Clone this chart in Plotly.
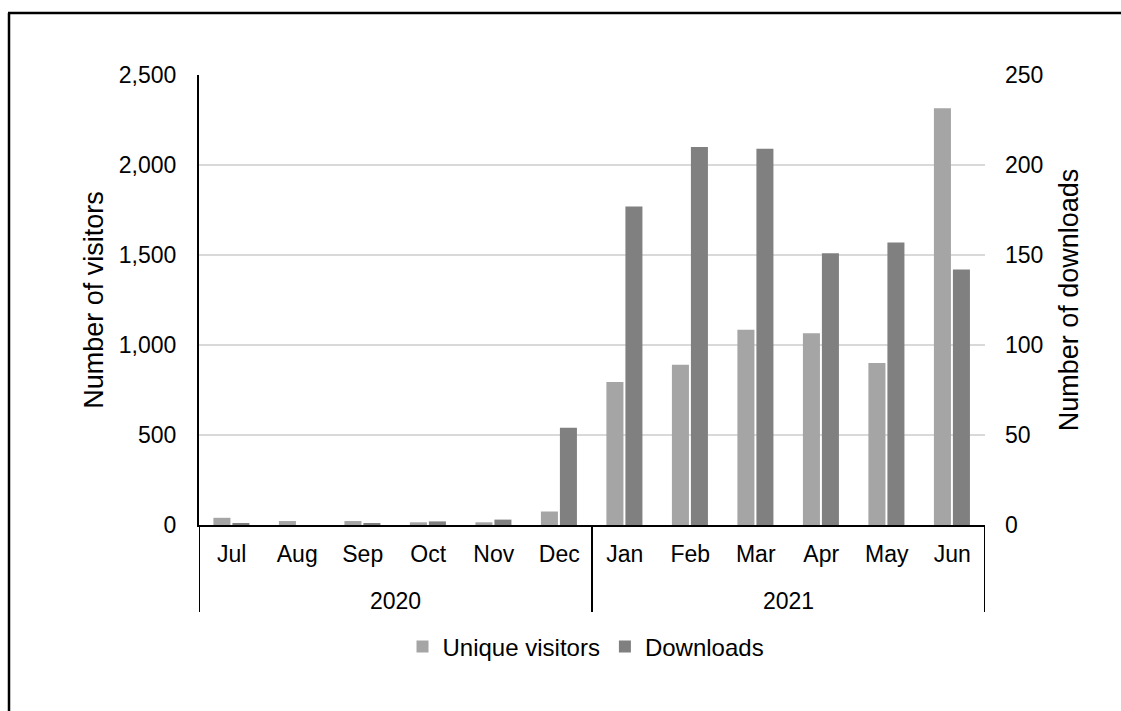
import plotly.graph_objects as go

months = ["Jul", "Aug", "Sep", "Oct", "Nov", "Dec", "Jan", "Feb", "Mar", "Apr", "May", "Jun"]
years = ["2020", "2021"]
year_spans = [(0, 5), (6, 11)]
visitors = [40, 22, 22, 15, 15, 75, 795, 890, 1085, 1065, 900, 2315]
downloads = [1, 0, 1, 2, 3, 54, 177, 210, 209, 151, 157, 142]

FONT = "Liberation Sans, Arial, sans-serif"
FS = 23
FT = 27
FL = 24
L, R, T, B = 199, 985, 75, 525
W, H = 1121, 711
pw, ph = R - L, B - T

fig = go.Figure()
fig.add_trace(go.Bar(x=list(range(len(months))), y=visitors, name="Unique visitors",
                     marker=dict(color="#A5A5A5", line=dict(width=0)),
                     offset=-0.28, width=0.26, yaxis="y"))
fig.add_trace(go.Bar(x=list(range(len(months))), y=downloads, name="Downloads",
                     marker=dict(color="#808080", line=dict(width=0)),
                     offset=0.01, width=0.26, yaxis="y2"))

shapes = []
div_bottom = (B - 612) / ph
bounds = [-0.5, 5.5, 11.5]
for b in bounds:
    shapes.append(dict(type="line", xref="x", yref="paper", x0=b, x1=b, y0=0, y1=div_bottom,
                       line=dict(color="black", width=2)))
# outer border (left and top edges visible)
shapes.append(dict(type="line", xref="paper", yref="paper",
                   x0=(9 - L) / pw, x1=(9 - L) / pw, y0=(B - H) / ph, y1=(B - 13) / ph,
                   line=dict(color="black", width=2.5)))
shapes.append(dict(type="line", xref="paper", yref="paper",
                   x0=(8 - L) / pw, x1=(W - L) / pw, y0=(B - 13) / ph, y1=(B - 13) / ph,
                   line=dict(color="black", width=2.5)))

annotations = []
for yr, (a, b) in zip(years, year_spans):
    annotations.append(dict(text=yr, x=(a + b) / 2, xref="x", y=(B - 601) / ph, yref="paper",
                            showarrow=False, font=dict(family=FONT, size=FS, color="black"),
                            xanchor="center", yanchor="middle"))

fig.update_layout(
    width=W, height=H,
    margin=dict(l=L, r=W - R, t=T, b=H - B),
    paper_bgcolor="white", plot_bgcolor="white",
    font=dict(family=FONT, size=FS, color="black"),
    showlegend=True,
    legend=dict(orientation="h", x=(586 - L) / pw, xref="paper", xanchor="center",
                y=(B - 647) / ph, yanchor="middle", font=dict(family=FONT, size=FL, color="black"),
                itemwidth=30, traceorder="normal"),
    xaxis=dict(type="linear", range=[-0.5, 11.5], tickmode="array",
               tickvals=list(range(len(months))), ticktext=months,
               showline=True, linecolor="black", linewidth=2, showgrid=False,
               zeroline=False, ticks="", ticklabelstandoff=7,
               tickfont=dict(family=FONT, size=FS, color="black")),
    yaxis=dict(range=[0, 2500], dtick=500, tickformat=",", showline=True, linecolor="black",
               linewidth=2, gridcolor="#D9D9D9", gridwidth=2, zeroline=False, ticks="",
               ticklabelstandoff=16,
               title=dict(text="Number of visitors", font=dict(family=FONT, size=FT, color="black"), standoff=7),
               tickfont=dict(family=FONT, size=FS, color="black")),
    yaxis2=dict(range=[0, 250], dtick=50, overlaying="y", side="right", showline=False,
                showgrid=False, zeroline=False, ticks="", ticklabelstandoff=19,
                title=dict(text="Number of downloads", font=dict(family=FONT, size=FT, color="black"), standoff=16),
                tickfont=dict(family=FONT, size=FS, color="black")),
    shapes=shapes, annotations=annotations,
    bargap=0.45,
)

fig.write_html("out.html", config={"displayModeBar": False})
